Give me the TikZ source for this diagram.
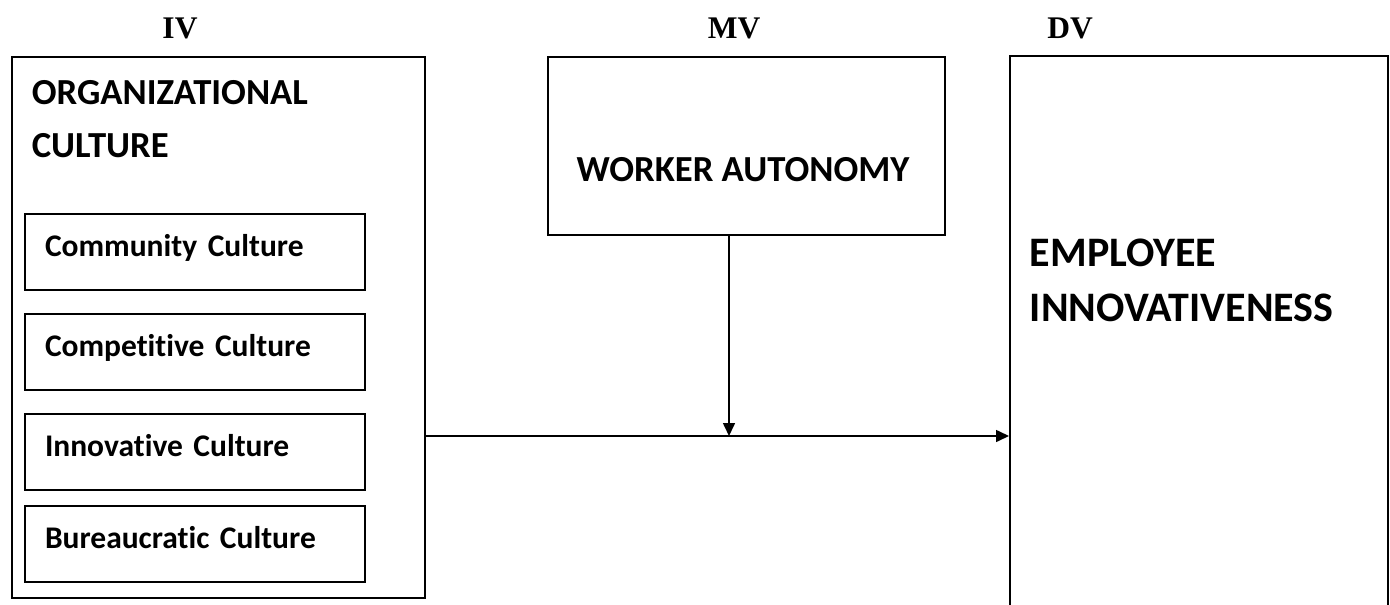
\documentclass[tikz,border=0pt]{standalone}
\usepackage{fontspec}
\setmainfont{Carlito}[Ligatures=NoCommon]
\newfontfamily\labelfont{Liberation Serif}
\usetikzlibrary{positioning,arrows.meta}

\begin{document}
\begin{tikzpicture}[
            x=1pt, y=-1pt,
            line width=1.6pt,
            >={Triangle[length=13pt,width=12pt]},
            bigbox/.style={rectangle, draw=black, inner sep=0pt, anchor=north west},
            cultbox/.style={rectangle, draw=black, outer sep=0pt, minimum width=340pt, minimum height=76pt, inner xsep=20pt, inner ysep=0pt, text width=300pt, align=left, text height=22pt, text depth=13pt, font=\bfseries\fontsize{31.5}{38}\selectfont},
            headtext/.style={inner sep=0pt, anchor=north west, align=left, font=\bfseries\fontsize{36.7}{53}\selectfont},
            dvtext/.style={inner sep=0pt, anchor=north west, align=left, font=\bfseries\fontsize{42}{55}\selectfont},
            varlabel/.style={font=\labelfont\bfseries\fontsize{31.5}{38}\selectfont},
        ]
        \useasboundingbox (0,0) rectangle (1390,605);
        \clip (0,0) rectangle (1390,605);

        % IV
        \node[varlabel] (iv) at (180,28) {IV};
        \node[bigbox, minimum width=413pt, minimum height=541pt] (org) at (11,56) {};
        \node[headtext] (orgtitle) at (31,80) {ORGANIZATIONAL\\CULTURE};
        \node[cultbox, anchor=north west] (community) at (25,214) {Community Culture};
        \node[cultbox] (competitive) [below=24pt of community] {Competitive Culture};
        \node[cultbox] (innovative) [below=24pt of competitive] {Innovative Culture};
        \node[cultbox] (bureaucratic) [below=16pt of innovative] {Bureaucratic Culture};

        % MV
        \node[varlabel] (mv) at (734,28) {MV};
        \node[bigbox, minimum width=397pt, minimum height=178pt] (wabox) at (547,56) {};
        \node[headtext, anchor=center] (watitle) at (743,170) {WORKER AUTONOMY};

        % DV
        \node[varlabel] (dv) at (1070,28) {DV};
        \node[bigbox, minimum width=378pt, minimum height=580pt] (dvbox) at (1009,55) {};
        \node[dvtext] (dvtitle) at (1029,238) {EMPLOYEE\\INNOVATIVENESS};

        \coordinate (meet) at (729,436);
        \draw[->] (wabox.south -| meet) -- (meet);
        \draw[->] (org.east |- meet) -- (dvbox.west |- meet);

    \end{tikzpicture}
\end{document}
